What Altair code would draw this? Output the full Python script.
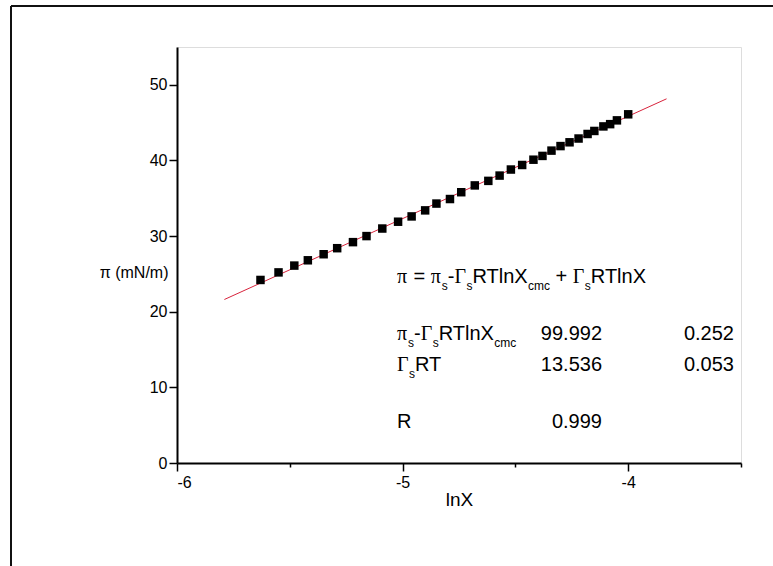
import altair as alt
import pandas as pd

# Surface pressure vs. ln of mole fraction, with the linear Gibbs fit
ln_x = [-5.63, -5.55, -5.48, -5.42, -5.35, -5.29, -5.22, -5.16, -5.09, -5.02,
        -4.96, -4.90, -4.85, -4.79, -4.74, -4.68, -4.62, -4.57, -4.52, -4.47,
        -4.42, -4.38, -4.34, -4.30, -4.26, -4.22, -4.18, -4.15, -4.11, -4.08,
        -4.05, -4.00]
pi_vals = [24.2, 25.2, 26.1, 26.8, 27.6, 28.4, 29.2, 30.0, 31.0, 31.9,
           32.6, 33.4, 34.3, 34.9, 35.8, 36.7, 37.3, 38.0, 38.8, 39.4,
           40.1, 40.6, 41.3, 41.9, 42.4, 42.9, 43.5, 43.9, 44.5, 44.8,
           45.3, 46.1]

# Fit results: pi = a + b * lnX
fit_a, fit_a_err = 99.992, 0.252
fit_b, fit_b_err = 13.536, 0.053
fit_r = 0.999
fit_x_range = [-5.79, -3.83]

x_major = [-6, -5, -4]
x_minor = [-5.5, -4.5, -3.5]
y_major = [0, 10, 20, 30, 40, 50]
y_minor = [5, 15, 25, 35, 45, 55]
x_domain = [-6, -3.5]
y_domain = [0, 55]

W, H = 564, 416
LEFT, TOP = 177, 47
FULL_W, FULL_H = 773, 566

SANS = "Liberation Sans"
SERIF = "Liberation Serif"
MAIN_SIZE, SUB_SIZE = 20, 12

x_scale = alt.Scale(domain=x_domain, nice=False, zero=False)
y_scale = alt.Scale(domain=y_domain, nice=False, zero=False)


def px_to_x(px):
    return x_domain[0] + px / W * (x_domain[1] - x_domain[0])


def py_to_y(py):
    return y_domain[1] - py / H * (y_domain[1] - y_domain[0])


axis_common = dict(
    domainColor="black", domainWidth=2, tickColor="black", tickWidth=1.5,
    labelFont=SANS, labelFontSize=16, labelColor="black",
    titleFont=SANS, titleColor="black", titleFontWeight="normal", grid=False,
)

x_axis = alt.Axis(
    values=x_major + x_minor,
    tickSize=alt.condition("datum.value % 1 !== 0", alt.value(4), alt.value(8)),
    labelExpr="datum.value % 1 === 0 ? toString(datum.value) : ''",
    labelPadding=3, title="lnX", titleFontSize=19, titlePadding=0,
    **axis_common,
)
y_axis = alt.Axis(
    values=y_major + y_minor,
    tickSize=alt.condition("datum.value % 10 !== 0", alt.value(5), alt.value(8)),
    labelExpr="datum.value % 10 === 0 ? toString(datum.value) : ''",
    labelPadding=2, title="π (mN/m)", titleFontSize=16, titleAngle=0,
    titleAlign="right", titleBaseline="middle", titleX=-9, titleY=225,
    **axis_common,
)

pts = pd.DataFrame({"lnX": ln_x, "pi": pi_vals})
points = alt.Chart(pts).mark_square(size=72, color="black", opacity=1).encode(
    x=alt.X("lnX:Q", scale=x_scale, axis=x_axis),
    y=alt.Y("pi:Q", scale=y_scale, axis=y_axis),
)

fit_df = pd.DataFrame({"lnX": fit_x_range,
                       "pi": [fit_a + fit_b * v for v in fit_x_range]})
fit_line = alt.Chart(fit_df).mark_line(color="#d8233c", strokeWidth=1).encode(
    x=alt.X("lnX:Q", scale=x_scale), y=alt.Y("pi:Q", scale=y_scale)
)

# Annotation text built from pieces so subscripts can be lowered
EM = {" ": 0.278, "=": 0.584, "+": 0.584, "-": 0.333, "R": 0.722, "T": 0.611,
      "l": 0.222, "n": 0.556, "X": 0.667, "s": 0.5, "c": 0.5, "m": 0.833,
      "π": 0.55, "Γ": 0.6}


def width(text, size):
    return sum(EM.get(ch, 0.556) for ch in text) * size


rows = [
    (235.7, [("π", "g"), (" = ", "m"), ("π", "g"), ("s", "s"), ("-", "m"),
             ("Γ", "g"), ("s", "s"), ("RTlnX", "m"), ("cmc", "s"), (" + ", "m"),
             ("Γ", "g"), ("s", "s"), ("RTlnX", "m")]),
    (293.0, [("π", "g"), ("s", "s"), ("-", "m"), ("Γ", "g"), ("s", "s"),
             ("RTlnX", "m"), ("cmc", "s")]),
    (323.7, [("Γ", "g"), ("s", "s"), ("RT", "m")]),
    (381.0, [("R", "m")]),
]
start_px = 220
pieces = []
for base, parts in rows:
    cx = start_px
    for text, kind in parts:
        size = SUB_SIZE if kind == "s" else MAIN_SIZE
        py = base + 7 if kind == "s" else base
        core = text.strip()
        lead = len(text) - len(text.lstrip())
        trail = len(text) - len(text.rstrip())
        cx += lead * EM[" "] * size
        pieces.append({"lnX": px_to_x(cx), "pi": py_to_y(py), "t": core,
                       "kind": kind, "size": size})
        cx += width(core, size) + trail * EM[" "] * size
pieces = pd.DataFrame(pieces)

nums = pd.DataFrame({
    "lnX": [px_to_x(425), px_to_x(557), px_to_x(425), px_to_x(557), px_to_x(425)],
    "pi": [py_to_y(293.0), py_to_y(293.0), py_to_y(323.7), py_to_y(323.7), py_to_y(381.0)],
    "t": [f"{fit_a:.3f}", f"{fit_a_err:.3f}", f"{fit_b:.3f}", f"{fit_b_err:.3f}", f"{fit_r:.3f}"],
})


def text_layer(df, font, align="left"):
    return alt.Chart(df).mark_text(font=font, align=align, baseline="alphabetic",
                                   color="black").encode(
        x=alt.X("lnX:Q", scale=x_scale),
        y=alt.Y("pi:Q", scale=y_scale),
        text="t:N",
        size=alt.Size("size:Q", scale=None),
    )


sans_txt = text_layer(pieces[pieces.kind != "g"], SANS)
greek_txt = text_layer(pieces[pieces.kind == "g"], SERIF)
num_txt = alt.Chart(nums).mark_text(font=SANS, fontSize=MAIN_SIZE, align="right",
                                    baseline="alphabetic", color="black").encode(
    x=alt.X("lnX:Q", scale=x_scale), y=alt.Y("pi:Q", scale=y_scale), text="t:N"
)

# Page frame (left and top edges fall inside the view)
frame_df = pd.DataFrame({"k": [0]})
frame_left = alt.Chart(frame_df).mark_rule(color="#111", strokeWidth=2).encode(
    x=alt.value(11 - LEFT), y=alt.value(6 - TOP), y2=alt.value(FULL_H)
)
frame_top = alt.Chart(frame_df).mark_rule(color="#111", strokeWidth=2).encode(
    x=alt.value(11 - LEFT), x2=alt.value(FULL_W), y=alt.value(6 - TOP)
)

chart = alt.layer(
    fit_line, points, sans_txt, greek_txt, num_txt, frame_left, frame_top
).properties(
    width=W, height=H,
    autosize=alt.AutoSizeParams(type="none"),
    padding={"left": LEFT, "top": TOP, "right": FULL_W - LEFT - W,
             "bottom": FULL_H - TOP - H},
).configure_view(stroke=None).configure(background="white")

chart.save("out.html", embed_options={"renderer": "svg", "actions": False})
